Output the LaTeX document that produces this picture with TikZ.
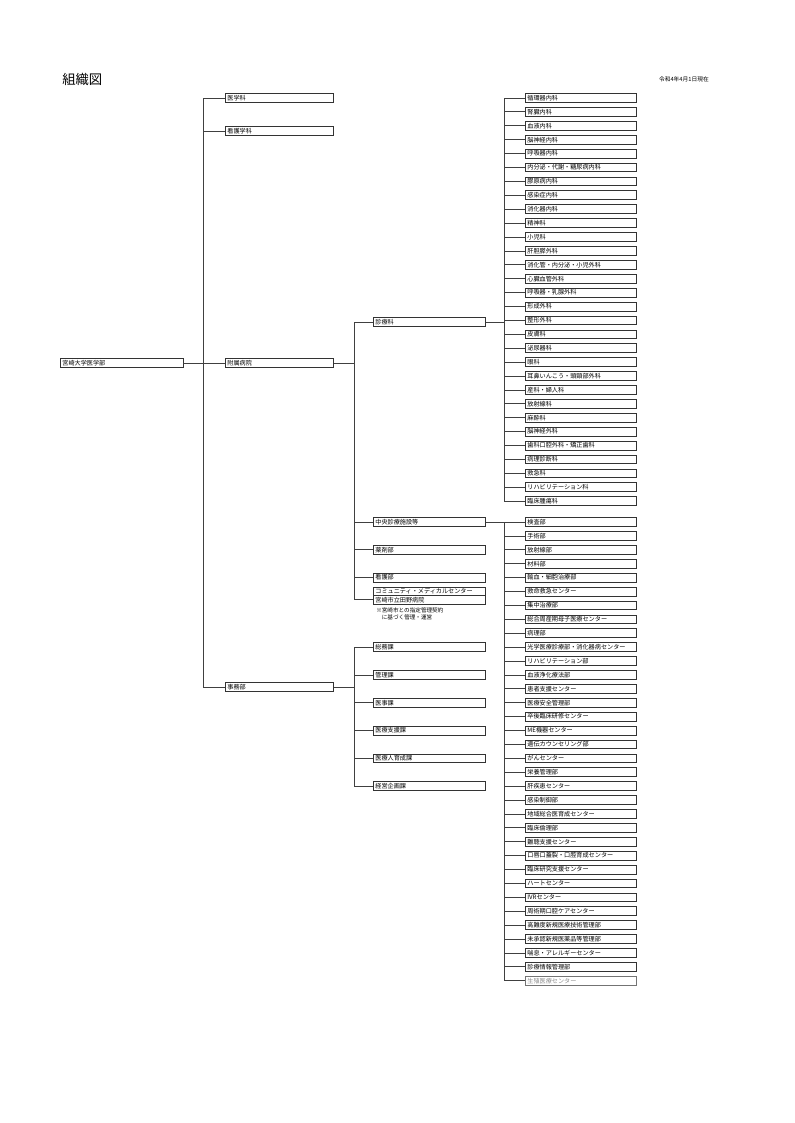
\documentclass[tikz,border=0pt]{standalone}
\usepackage{fontspec}
\setmainfont{Noto Sans CJK JP}
\begin{document}
\begin{tikzpicture}[x=0.75pt,y=-0.75pt,
  box/.style={draw=black!80,line width=0.6pt,anchor=west,minimum height=6.6pt,inner xsep=1.5pt,inner ysep=0pt,align=left,font=\fontsize{4.6}{5}\selectfont},
  rbox/.style={box,text width=80.2pt},
  mbox/.style={box,text width=81pt},
  lbox/.style={box,text width=78pt},
  link/.style={draw=black!75,line width=0.6pt}]
\useasboundingbox (0,0) rectangle (794,1123);
\node[anchor=west,inner sep=0pt,font=\fontsize{10}{12}\selectfont] (title) at (62,79) {組織図};
\node[anchor=east,inner sep=0pt,font=\fontsize{4.3}{5}\selectfont] (date) at (709,79) {令和4年4月1日現在};
\node[box,text width=89pt] (root) at (60,363) {宮崎大学医学部};
\node[lbox] (igaku)  at (225,98)  {医学科};
\node[lbox] (kango)  at (225,131) {看護学科};
\node[lbox] (fuzoku) at (225,363) {附属病院};
\node[lbox] (jimu)   at (225,687) {事務部};
\node[mbox] (shinryo) at (373,322) {診療科};
\node[mbox] (chuo)    at (373,522) {中央診療施設等};
\node[mbox] (yakuzai) at (373,549.8) {薬剤部};
\node[mbox] (kangobu) at (373,577.6) {看護部};
\node[mbox,minimum height=6.3pt] (cmc)  at (373,591.4) {コミュニティ・メディカルセンター};
\node[mbox,minimum height=6.3pt] (tano) at (373,599.8) {宮崎市立田野病院};
\node[anchor=north west,align=left,inner sep=0pt,font=\fontsize{4.2}{5.4}\selectfont] (note) at (376,607.5) {※宮崎市との指定管理契約\\　に基づく管理・運営};
\node[mbox] (m1) at (373,647.1) {総務課};
\node[mbox] (m2) at (373,674.9) {管理課};
\node[mbox] (m3) at (373,702.7) {医事課};
\node[mbox] (m4) at (373,730.5) {医療支援課};
\node[mbox] (m5) at (373,758.3) {医療人育成課};
\node[mbox] (m6) at (373,786.1) {経営企画課};
\node[rbox] (d1)  at (525,98.0)  {循環器内科};
\node[rbox] (d2)  at (525,111.9) {腎臓内科};
\node[rbox] (d3)  at (525,125.8) {血液内科};
\node[rbox] (d4)  at (525,139.7) {脳神経内科};
\node[rbox] (d5)  at (525,153.6) {呼吸器内科};
\node[rbox] (d6)  at (525,167.5) {内分泌・代謝・糖尿病内科};
\node[rbox] (d7)  at (525,181.4) {膠原病内科};
\node[rbox] (d8)  at (525,195.3) {感染症内科};
\node[rbox] (d9)  at (525,209.2) {消化器内科};
\node[rbox] (d10) at (525,223.1) {精神科};
\node[rbox] (d11) at (525,237.0) {小児科};
\node[rbox] (d12) at (525,250.9) {肝胆膵外科};
\node[rbox] (d13) at (525,264.8) {消化管・内分泌・小児外科};
\node[rbox] (d14) at (525,278.7) {心臓血管外科};
\node[rbox] (d15) at (525,292.6) {呼吸器・乳腺外科};
\node[rbox] (d16) at (525,306.5) {形成外科};
\node[rbox] (d17) at (525,320.4) {整形外科};
\node[rbox] (d18) at (525,334.3) {皮膚科};
\node[rbox] (d19) at (525,348.2) {泌尿器科};
\node[rbox] (d20) at (525,362.1) {眼科};
\node[rbox] (d21) at (525,376.0) {耳鼻いんこう・頭頸部外科};
\node[rbox] (d22) at (525,389.9) {産科・婦人科};
\node[rbox] (d23) at (525,403.8) {放射線科};
\node[rbox] (d24) at (525,417.7) {麻酔科};
\node[rbox] (d25) at (525,431.6) {脳神経外科};
\node[rbox] (d26) at (525,445.5) {歯科口腔外科・矯正歯科};
\node[rbox] (d27) at (525,459.4) {病理診断科};
\node[rbox] (d28) at (525,473.3) {救急科};
\node[rbox] (d29) at (525,487.2) {リハビリテーション科};
\node[rbox] (d30) at (525,501.1) {臨床腫瘍科};
\node[rbox] (c1)  at (525,522.0) {検査部};
\node[rbox] (c2)  at (525,535.9) {手術部};
\node[rbox] (c3)  at (525,549.8) {放射線部};
\node[rbox] (c4)  at (525,563.7) {材料部};
\node[rbox] (c5)  at (525,577.6) {輸血・細胞治療部};
\node[rbox] (c6)  at (525,591.5) {救命救急センター};
\node[rbox] (c7)  at (525,605.4) {集中治療部};
\node[rbox] (c8)  at (525,619.3) {総合周産期母子医療センター};
\node[rbox] (c9)  at (525,633.2) {病理部};
\node[rbox] (c10) at (525,647.1) {光学医療診療部・消化器病センター};
\node[rbox] (c11) at (525,661.0) {リハビリテーション部};
\node[rbox] (c12) at (525,674.9) {血液浄化療法部};
\node[rbox] (c13) at (525,688.8) {患者支援センター};
\node[rbox] (c14) at (525,702.7) {医療安全管理部};
\node[rbox] (c15) at (525,716.6) {卒後臨床研修センター};
\node[rbox] (c16) at (525,730.5) {ME機器センター};
\node[rbox] (c17) at (525,744.4) {遺伝カウンセリング部};
\node[rbox] (c18) at (525,758.3) {がんセンター};
\node[rbox] (c19) at (525,772.2) {栄養管理部};
\node[rbox] (c20) at (525,786.1) {肝疾患センター};
\node[rbox] (c21) at (525,800.0) {感染制御部};
\node[rbox] (c22) at (525,813.9) {地域総合医育成センター};
\node[rbox] (c23) at (525,827.8) {臨床倫理部};
\node[rbox] (c24) at (525,841.7) {難聴支援センター};
\node[rbox] (c25) at (525,855.6) {口唇口蓋裂・口腔育成センター};
\node[rbox] (c26) at (525,869.5) {臨床研究支援センター};
\node[rbox] (c27) at (525,883.4) {ハートセンター};
\node[rbox] (c28) at (525,897.3) {IVRセンター};
\node[rbox] (c29) at (525,911.2) {周術期口腔ケアセンター};
\node[rbox] (c30) at (525,925.1) {高難度新規医療技術管理部};
\node[rbox] (c31) at (525,939.0) {未承認新規医薬品等管理部};
\node[rbox] (c32) at (525,952.9) {喘息・アレルギーセンター};
\node[rbox] (c33) at (525,966.8) {診療情報管理部};
\node[rbox,draw=black!55,text=black!45] (c34) at (525,980.7) {生殖医療センター};
\coordinate (b0) at (203,363);
\coordinate (b1) at (354,363);
\coordinate (b2) at (354,687);
\coordinate (b3) at (504,322);
\coordinate (b4) at (504,522);
\draw[link] (root.east) -- (b0);
\foreach \n in {igaku,kango,fuzoku,jimu} \draw[link] (b0) |- (\n.west);
\draw[link] (fuzoku.east) -- (b1);
\foreach \n in {shinryo,chuo,yakuzai,kangobu,tano} \draw[link] (b1) |- (\n.west);
\draw[link] (jimu.east) -- (b2);
\foreach \i in {1,...,6} \draw[link] (b2) |- (m\i.west);
\draw[link] (shinryo.east) -- (b3);
\foreach \i in {1,...,30} \draw[link] (b3) |- (d\i.west);
\draw[link] (chuo.east) -- (b4);
\foreach \i in {1,...,34} \draw[link] (b4) |- (c\i.west);
\end{tikzpicture}
\end{document}
